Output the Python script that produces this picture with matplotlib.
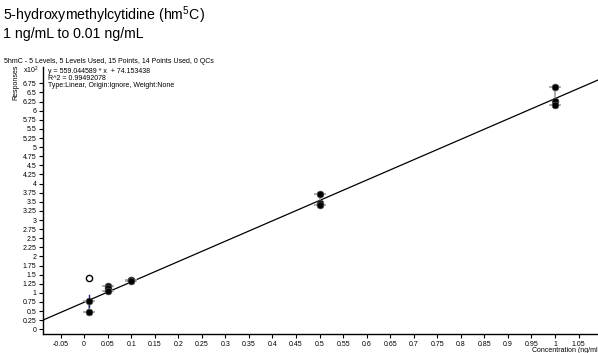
import matplotlib.pyplot as plt
import numpy as np

plt.rcParams["font.family"] = ["Liberation Sans", "DejaVu Sans"]
plt.rcParams["mathtext.fontset"] = "custom"
plt.rcParams["mathtext.rm"] = "Liberation Sans"
plt.rcParams["mathtext.it"] = "Liberation Sans"

# calibration levels (ng/mL) and responses (x10^2)
level_conc = [0.01, 0.05, 0.1, 0.5, 1.0]
level_responses = [
    [0.78, 0.48],
    [1.19, 1.12, 1.06],
    [1.36, 1.34, 1.32],
    [3.72, 3.47, 3.40],
    [6.64, 6.26, 6.16],
]
excluded_conc = [0.01]
excluded_response = [1.42]

slope = 559.044589 / 100
intercept = 74.153438 / 100

x_ticks = np.round(np.arange(-0.05, 1.051, 0.05), 2)
y_ticks = np.round(np.arange(0, 6.751, 0.25), 2)


def main() -> None:
    figure = plt.figure(figsize=(5.98, 3.53), dpi=100)

    axis = figure.add_axes([0.0714, 0.053, 0.9286, 0.757])
    axis.set_xlim(-0.088, 1.0913)
    axis.set_ylim(-0.137, 7.198)

    for spine in ["top", "right"]:
        axis.spines[spine].set_visible(False)
    for spine in ["left", "bottom"]:
        axis.spines[spine].set_linewidth(1.0)

    # regression line
    line_x = np.array([-0.088, 1.0913])
    axis.plot(
        line_x,
        slope * line_x + intercept,
        color="black",
        linewidth=0.9,
        zorder=2,
    )

    # replicate range bars
    for conc, values in zip(level_conc, level_responses):
        low = min(values)
        high = max(values)
        if conc == 0.01:
            axis.plot([conc, conc], [0.62, 0.95], color="#1a237e",
                      linewidth=1.0, zorder=3)
        axis.errorbar(
            [conc],
            [(low + high) / 2],
            yerr=[[(high - low) / 2], [(high - low) / 2]],
            fmt="none",
            ecolor="#a8a8a8",
            elinewidth=1.3,
            capsize=4.5,
            capthick=1.3,
            zorder=2,
        )
        axis.scatter(
            [conc] * len(values),
            values,
            s=24,
            color="black",
            edgecolors="#555555",
            linewidths=0.5,
            zorder=4,
        )

    axis.scatter(
        excluded_conc,
        excluded_response,
        s=20,
        facecolors="white",
        edgecolors="black",
        linewidths=1.0,
        zorder=4,
    )

    axis.set_xticks(x_ticks)
    axis.set_xticklabels([f"{value:g}" for value in x_ticks])
    axis.set_yticks(y_ticks)
    axis.set_yticklabels([f"{value:g}" for value in y_ticks])
    axis.tick_params(
        axis="both",
        direction="out",
        length=3,
        width=0.8,
        labelsize=5,
        pad=1.5,
    )

    # titles
    figure.text(0.005, 0.942, "5-hydroxymethylcytidine (hm$^{5}$C)",
                fontsize=10.2, ha="left", va="baseline")
    figure.text(0.005, 0.893, "1 ng/mL to 0.01 ng/mL",
                fontsize=10.2, ha="left", va="baseline")
    figure.text(0.007, 0.822,
                "5hmC - 5 Levels, 5 Levels Used, 15 Points, "
                "14 Points Used, 0 QCs",
                fontsize=5, ha="left", va="baseline")

    figure.text(0.080, 0.793, "y = 559.044589 * x  + 74.153438",
                fontsize=5, ha="left", va="baseline")
    figure.text(0.080, 0.774, "R^2 = 0.99492078",
                fontsize=5, ha="left", va="baseline")
    figure.text(0.080, 0.753, "Type:Linear, Origin:Ignore, Weight:None",
                fontsize=5, ha="left", va="baseline")

    figure.text(0.038, 0.793, "x10$^{2}$", fontsize=5,
                ha="left", va="baseline")
    figure.text(0.026, 0.818, "Responses", fontsize=5, rotation=90,
                ha="center", va="top")
    figure.text(0.89, 0.004, "Concentration (ng/ml)", fontsize=5,
                ha="left", va="baseline")

    figure.savefig("out.png", dpi=100)
    plt.close(figure)


if __name__ == "__main__":
    main()
